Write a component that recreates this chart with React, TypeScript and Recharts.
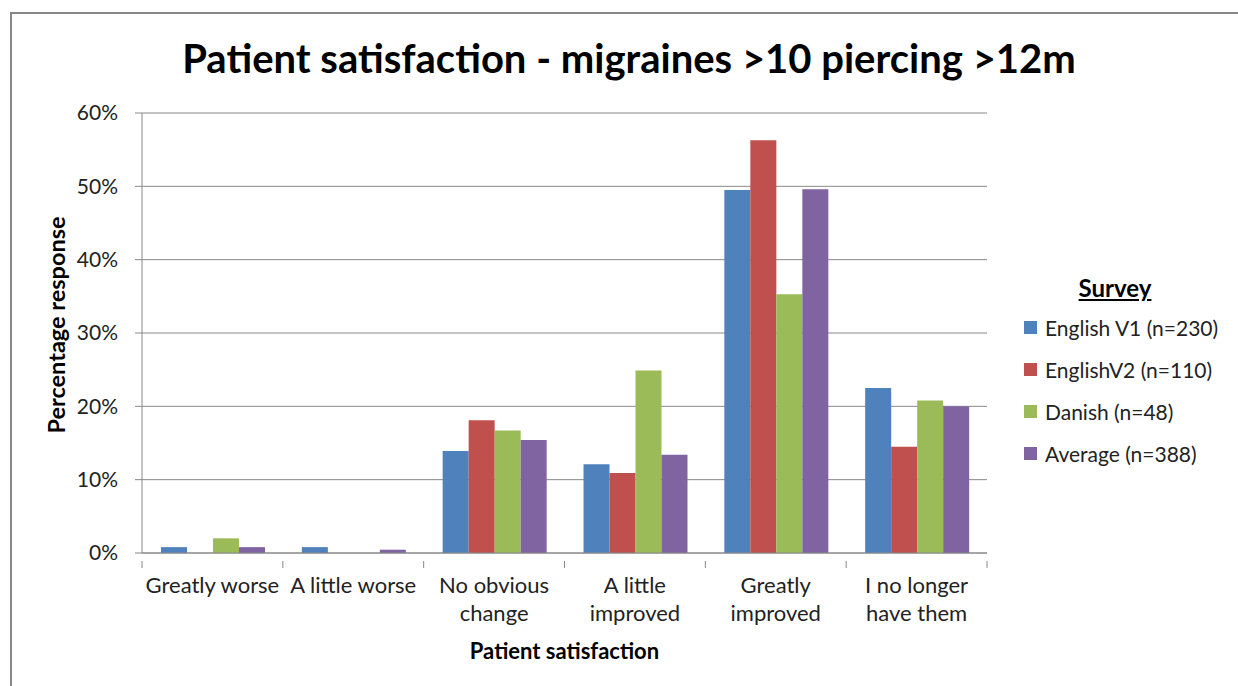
import { BarChart, Bar, XAxis, YAxis, CartesianGrid, Legend } from 'recharts';

const CATEGORIES = [
  'Greatly worse',
  'A little worse',
  'No obvious change',
  'A little improved',
  'Greatly improved',
  'I no longer have them',
];
const ENGLISH_V1 = [0.8, 0.8, 13.9, 12.1, 49.5, 22.5];
const ENGLISH_V2 = [0, 0, 18.1, 10.9, 56.3, 14.5];
const DANISH = [2.0, 0, 16.7, 24.9, 35.3, 20.8];
const AVERAGE = [0.8, 0.45, 15.4, 13.4, 49.6, 20.0];
const Y_TICKS = [0, 10, 20, 30, 40, 50, 60];

const SERIES = [
  { key: 'v1', name: 'English V1 (n=230)', color: '#4F81BD', values: ENGLISH_V1 },
  { key: 'v2', name: 'EnglishV2 (n=110)', color: '#C0504D', values: ENGLISH_V2 },
  { key: 'dk', name: 'Danish (n=48)', color: '#9BBB59', values: DANISH },
  { key: 'avg', name: 'Average (n=388)', color: '#8064A2', values: AVERAGE },
];

const data = CATEGORIES.map((name, i) => {
  const row: Record<string, string | number> = { name };
  SERIES.forEach((s) => (row[s.key] = s.values[i]));
  return row;
});

const FONT = 'Lato, "Open Sans", sans-serif';
const GREY = '#888888';
const TICK_SIZE = 22;

// greedy word wrap, measured with canvas so it follows the real font
const ctx = document.createElement('canvas').getContext('2d');
function wrap(text: string, maxWidth: number) {
  if (!ctx) return [text];
  ctx.font = `${TICK_SIZE}px Lato`;
  const lines: string[] = [];
  let cur = '';
  text.split(' ').forEach((w) => {
    const next = cur ? cur + ' ' + w : w;
    if (cur && ctx.measureText(next).width > maxWidth) {
      lines.push(cur);
      cur = w;
    } else cur = next;
  });
  if (cur) lines.push(cur);
  return lines;
}

function CategoryTick(props: any) {
  const { x, y, payload, index, visibleTicksCount, width } = props;
  const half = payload.offset || width / visibleTicksCount / 2;
  const lines = wrap(payload.value, 138);
  return (
    <g>
      {/* tick marks sit between categories, like the original */}
      <line x1={x - half} x2={x - half} y1={y} y2={y + 7} stroke={GREY} />
      {index === visibleTicksCount - 1 && (
        <line x1={x + half} x2={x + half} y1={y} y2={y + 7} stroke={GREY} />
      )}
      <text x={x} y={y} textAnchor="middle" style={{ fontFamily: FONT, fontSize: TICK_SIZE, fill: '#222' }}>
        {lines.map((l, i) => (
          <tspan key={i} x={x} y={y + 23 + i * 28} dominantBaseline="central">
            {l}
          </tspan>
        ))}
      </text>
    </g>
  );
}

function XLabel(props: any) {
  const { viewBox } = props;
  return (
    <text
      x={viewBox.x + viewBox.width / 2}
      y={650}
      textAnchor="middle"
      dominantBaseline="central"
      style={{ fontFamily: FONT, fontSize: 22, fontWeight: 700, fill: '#000' }}
    >
      Patient satisfaction
    </text>
  );
}

function YLabel() {
  return (
    <text
      x={56}
      y={325}
      transform="rotate(-90, 56, 325)"
      textAnchor="middle"
      dominantBaseline="central"
      style={{ fontFamily: FONT, fontSize: 23.5, fontWeight: 700, fill: '#000' }}
    >
      Percentage response
    </text>
  );
}

function renderLegend(props: any) {
  const order = SERIES.map((s) => s.name);
  const payload = [...(props.payload || [])].sort(
    (a: any, b: any) => order.indexOf(a.value) - order.indexOf(b.value)
  );
  return (
    <div style={{ fontFamily: FONT, color: '#222' }}>
      <div
        style={{
          textAlign: 'center',
          paddingRight: 18,
          fontWeight: 700,
          fontSize: 24,
          textDecoration: 'underline',
          color: '#000',
          height: 36,
          lineHeight: '36px',
        }}
      >
        Survey
      </div>
      {payload.map((p: any) => (
        <div
          key={p.value}
          style={{ display: 'flex', alignItems: 'center', height: 42.2, fontSize: 21, whiteSpace: 'nowrap' }}
        >
          <span style={{ width: 13, height: 13, background: p.color, marginLeft: 14, marginRight: 8 }} />
          {p.value}
        </div>
      ))}
    </div>
  );
}

export default function App() {
  return (
    <div
      style={{
        position: 'absolute',
        left: 0,
        top: 0,
        width: 1238,
        height: 686,
        overflow: 'hidden',
        background: '#fff',
      }}
    >
      <div
        style={{
          position: 'absolute',
          left: 10,
          top: 12,
          width: 1400,
          height: 800,
          borderLeft: '2px solid #878787',
          borderTop: '2px solid #878787',
        }}
      />
      <div
        style={{
          position: 'absolute',
          left: 0,
          top: 36,
          width: 1258,
          textAlign: 'center',
          fontFamily: FONT,
          fontWeight: 700,
          fontSize: 40,
          lineHeight: '44px',
          color: '#000',
        }}
      >
        Patient satisfaction - migraines &gt;10 piercing &gt;12m
      </div>
      <div style={{ position: 'absolute', left: 0, top: 0 }}>
        <BarChart
          width={1238}
          height={686}
          data={data}
          margin={{ top: 113, right: 251, left: 0, bottom: 33 }}
          barCategoryGap={19}
          barGap={0}
        >
          <CartesianGrid horizontal vertical={false} stroke={GREY} strokeWidth={1} />
          <XAxis
            dataKey="name"
            interval={0}
            tickLine={false}
            axisLine={{ stroke: GREY }}
            tick={<CategoryTick />}
            height={100}
            label={<XLabel />}
          />
          <YAxis
            width={142}
            domain={[0, 60]}
            ticks={Y_TICKS}
            interval={0}
            tickFormatter={(v: number) => `${v}%`}
            tickSize={7}
            tickMargin={17}
            axisLine={{ stroke: GREY }}
            tickLine={{ stroke: GREY }}
            tick={{ fontFamily: FONT, fontSize: 21, fill: '#222' }}
            label={<YLabel />}
          />
          <Legend
            layout="vertical"
            align="center"
            verticalAlign="middle"
            content={renderLegend}
            wrapperStyle={{ left: 1010, top: 270, width: 228 }}
          />
          {SERIES.map((s) => (
            <Bar key={s.key} dataKey={s.key} name={s.name} fill={s.color} isAnimationActive={false} />
          ))}
        </BarChart>
      </div>
    </div>
  );
}
